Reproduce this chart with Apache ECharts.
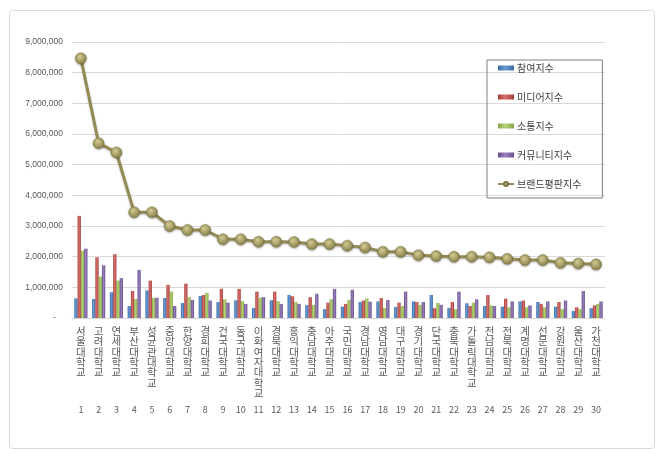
<!DOCTYPE html>
<html><head><meta charset="utf-8">
<script src="https://cdn.jsdelivr.net/npm/echarts@6/dist/echarts.min.js"></script>
<style>html,body{margin:0;padding:0;background:#fff}#c{width:660px;height:454px}</style>
</head><body><div id="c"></div>
<script>
const categories = ['서울대학교','고려대학교','연세대학교','부산대학교','성균관대학교','중앙대학교','한양대학교','경희대학교','건국대학교','동국대학교','이화여자대학교','경북대학교','홍익대학교','충남대학교','아주대학교','국민대학교','경남대학교','영남대학교','대구대학교','경기대학교','단국대학교','충북대학교','가톨릭대학교','전남대학교','전북대학교','계명대학교','선문대학교','강원대학교','울산대학교','가천대학교'];
const ranks = ['1','2','3','4','5','6','7','8','9','10','11','12','13','14','15','16','17','18','19','20','21','22','23','24','25','26','27','28','29','30'];
const participation = [640000,620000,840000,390000,900000,650000,490000,720000,520000,580000,330000,580000,750000,420000,290000,370000,520000,540000,360000,540000,750000,330000,480000,390000,370000,540000,520000,370000,230000,320000];
const media = [3330000,1980000,2080000,880000,1220000,1080000,1120000,750000,950000,950000,860000,860000,710000,680000,500000,460000,570000,650000,500000,520000,320000,520000,390000,750000,630000,570000,460000,520000,350000,410000];
const communication = [2200000,1350000,1220000,620000,660000,860000,680000,820000,610000,550000,660000,550000,520000,430000,610000,590000,640000,330000,390000,430000,490000,290000,500000,410000,350000,350000,350000,290000,290000,460000];
const community = [2260000,1720000,1300000,1570000,660000,390000,590000,570000,500000,460000,680000,460000,460000,790000,950000,920000,530000,590000,860000,520000,430000,860000,610000,390000,540000,410000,540000,570000,880000,540000];
const brand = [8470000,5700000,5400000,3450000,3450000,3000000,2870000,2870000,2570000,2570000,2490000,2490000,2480000,2410000,2410000,2360000,2300000,2160000,2160000,2050000,2020000,2000000,2000000,1980000,1930000,1890000,1890000,1800000,1780000,1750000];

const seriesNames = ['참여지수','미디어지수','소통지수','커뮤니티지수','브랜드평판지수'];
const font = '"Noto Sans CJK KR", "Noto Sans", sans-serif';

function barGrad(dark, light) {
  return new echarts.graphic.LinearGradient(0, 0, 1, 0, [
    {offset: 0, color: dark}, {offset: 0.45, color: light}, {offset: 1, color: dark}
  ]);
}
function barSeries(name, data, dark, light) {
  return {
    name: name, type: 'bar', data: data, barGap: '0%', barCategoryGap: '26%',
    itemStyle: {color: barGrad(dark, light)}
  };
}

const chart = echarts.init(document.getElementById('c'));
chart.setOption({
  backgroundColor: '#ffffff',
  animation: false,
  textStyle: {fontFamily: font},
  graphic: [{
    type: 'rect', left: 7, top: 8, shape: {width: 645, height: 438, r: 3},
    style: {fill: 'none', stroke: '#d9d9d9', lineWidth: 1}, silent: true
  }],
  grid: {left: 72, right: 55, top: 42, bottom: 136},
  legend: {
    orient: 'vertical', left: 487, top: 60,
    data: seriesNames.map(n => n === '브랜드평판지수' ? {name: n} : {name: n, icon: 'rect'}),
    itemWidth: 16, itemHeight: 5, itemGap: 19,
    padding: [3, 21, 9, 10],
    borderColor: '#7f7f7f', borderWidth: 1,
    textStyle: {fontSize: 10, color: '#404040', fontFamily: font, padding: [0, 0, 0, -2]}
  },
  xAxis: [{
    type: 'category', data: categories, position: 'bottom',
    axisLine: {lineStyle: {color: '#d9d9d9'}},
    axisTick: {length: 99, lineStyle: {color: '#d9d9d9'}},
    axisLabel: {
      interval: 0, margin: 8, fontSize: 10.5, lineHeight: 10.3, color: '#595959', fontFamily: font,
      formatter: v => v.split('').join('\n'), verticalAlign: 'top'
    }
  }, {
    type: 'category', data: ranks, position: 'bottom', offset: 80,
    axisLine: {show: false}, axisTick: {show: false},
    axisLabel: {interval: 0, margin: 7, fontSize: 9, color: '#595959', fontFamily: font}
  }],
  yAxis: {
    type: 'value', min: 0, max: 9000000, interval: 1000000,
    axisLine: {show: false}, axisTick: {show: false},
    splitLine: {lineStyle: {color: '#d9d9d9'}},
    axisLabel: {
      margin: 9, fontSize: 8.5, color: '#595959', fontFamily: 'Liberation Sans, Arial, sans-serif',
      formatter: v => v === 0 ? '-   ' : v.toLocaleString('en-US')
    }
  },
  series: [
    barSeries('참여지수', participation, '#3a6aa3', '#6a9ad3'),
    barSeries('미디어지수', media, '#a43c39', '#d8706c'),
    barSeries('소통지수', communication, '#84a344', '#b5d677'),
    barSeries('커뮤니티지수', community, '#674e8a', '#9a80bd'),
    {
      name: '브랜드평판지수', type: 'line', data: brand,
      symbol: 'circle', symbolSize: 11,
      lineStyle: {color: '#948a54', width: 3, shadowColor: 'rgba(0,0,0,0.25)', shadowBlur: 2, shadowOffsetY: 1},
      itemStyle: {
        color: new echarts.graphic.RadialGradient(0.4, 0.35, 0.7, [
          {offset: 0, color: '#d4cc93'}, {offset: 1, color: '#857b45'}
        ]),
        borderColor: '#7d7440', borderWidth: 0.5,
        shadowColor: 'rgba(0,0,0,0.3)', shadowBlur: 2, shadowOffsetY: 1
      },
      z: 5
    }
  ]
});
</script></body></html>
